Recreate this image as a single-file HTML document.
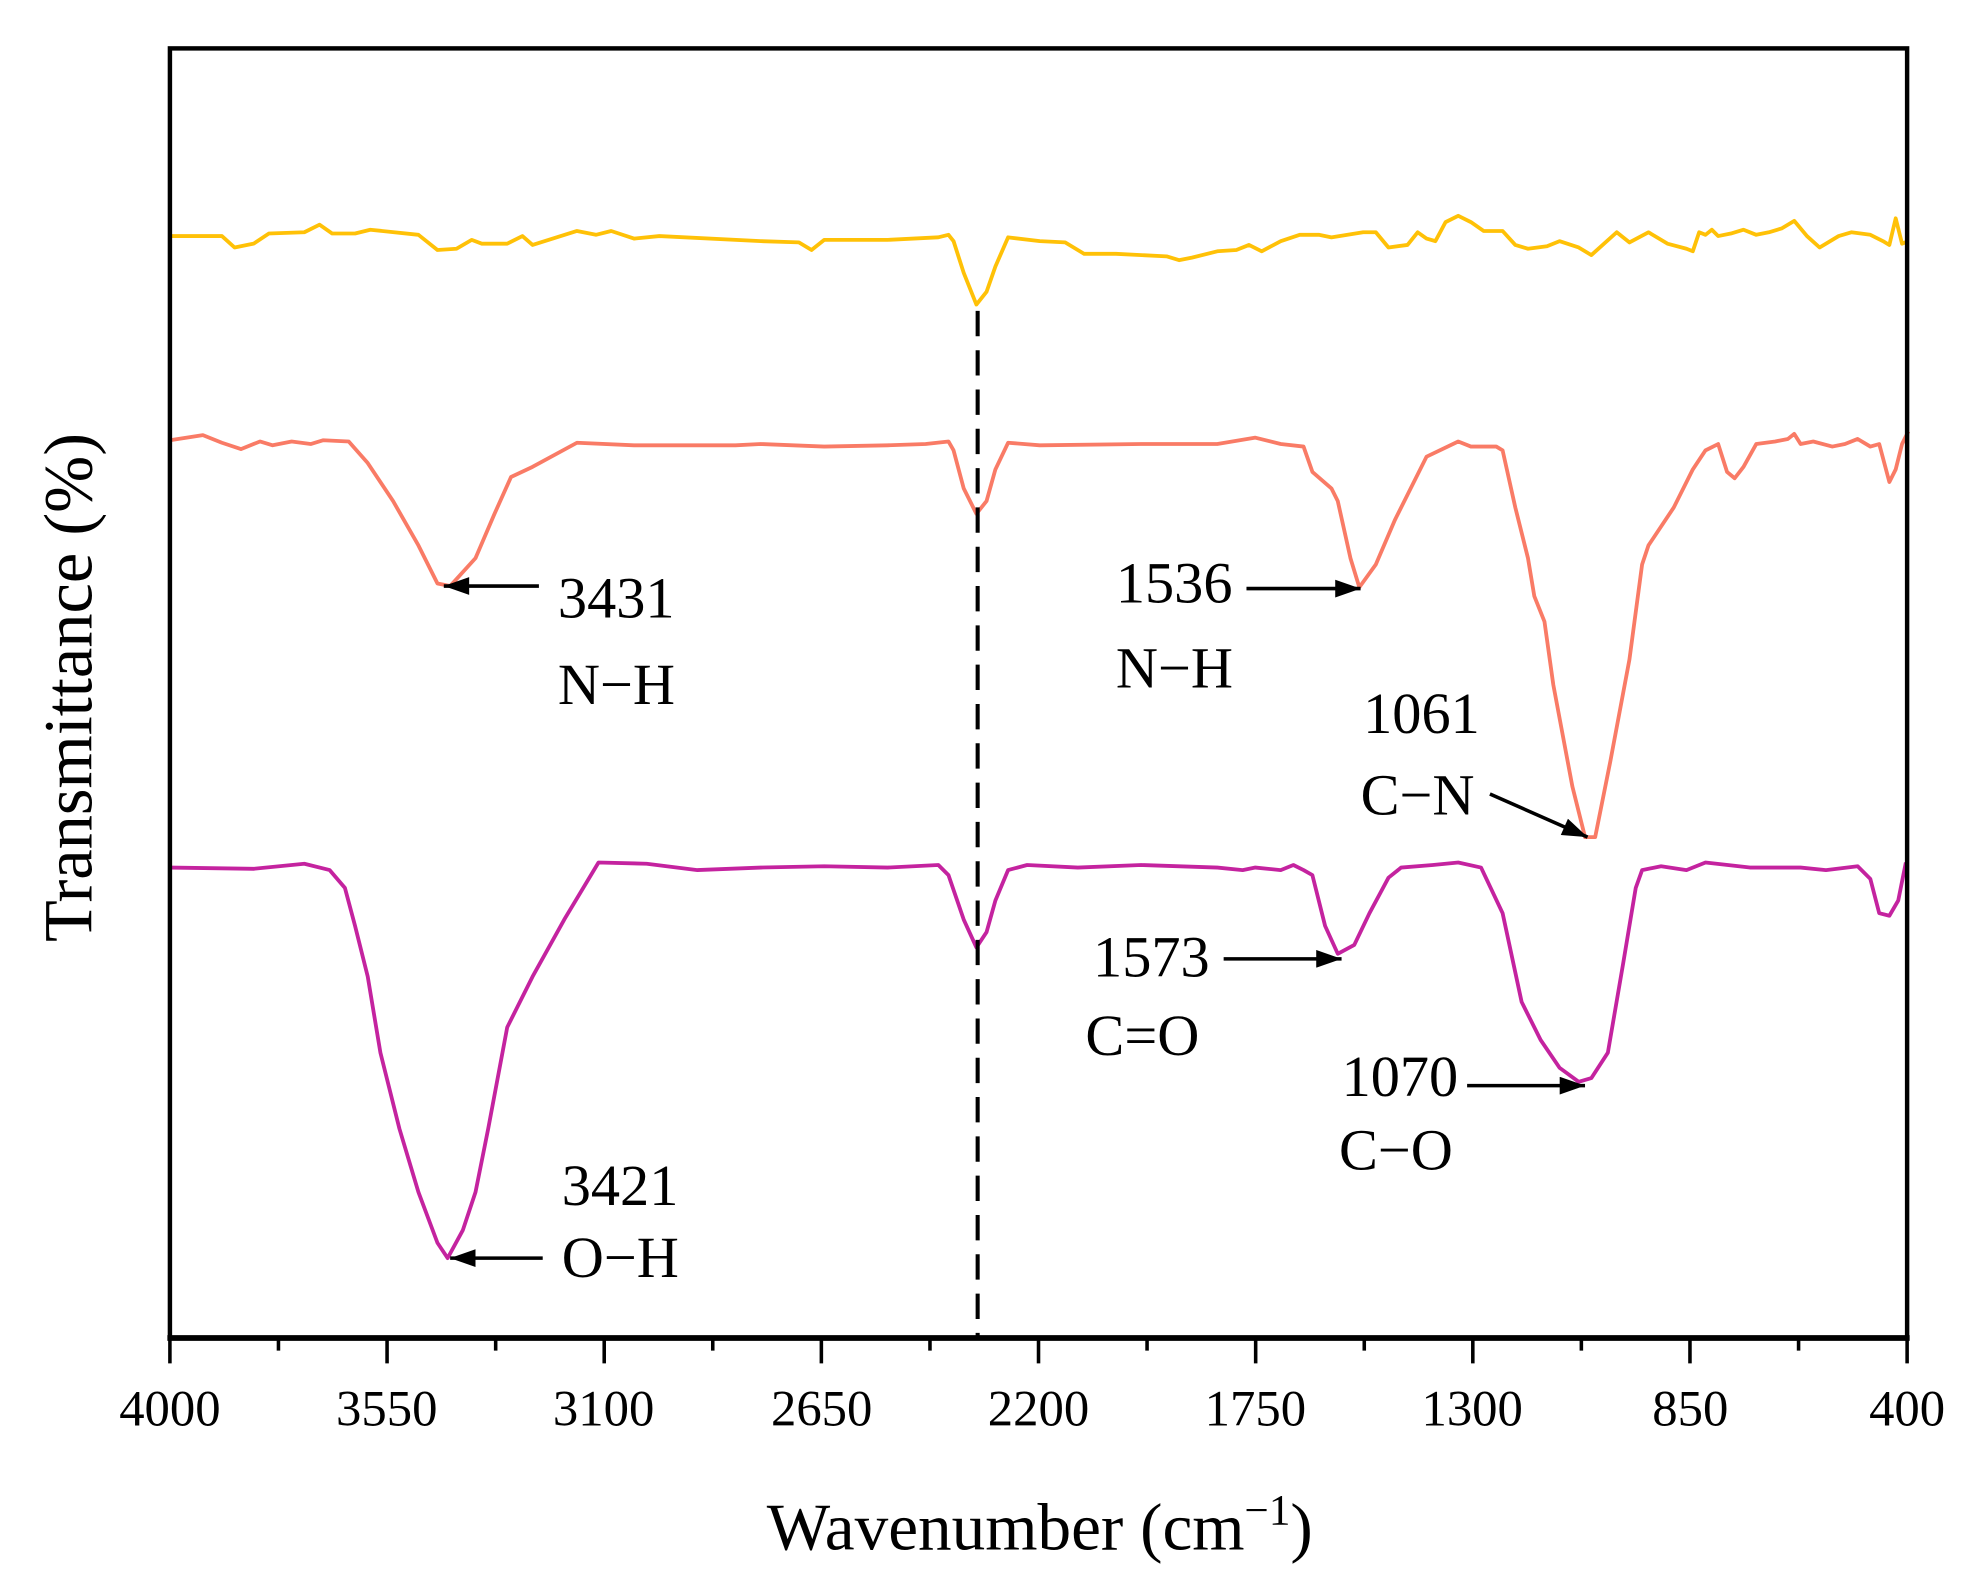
<!DOCTYPE html>
<html><head><meta charset="utf-8"><style>html,body{margin:0;padding:0;background:#fff}svg{display:block}</style></head>
<body>
<svg width="1987" height="1588" viewBox="0 0 1567 1252" xmlns="http://www.w3.org/2000/svg" font-family="'Liberation Serif', serif">
<defs>
<marker id="a2" viewBox="0 0 20 14" refX="20" refY="7" markerWidth="26" markerHeight="14" orient="auto" markerUnits="userSpaceOnUse"><path d="M0,0 L20,7 L0,14z" fill="#000"/></marker></defs>
<g fill="none" stroke-linejoin="round" stroke-width="3">
<polyline stroke="#FFC107" points="134,186 175,186 185,195 200,192 212,184 240,183 252,177 262,184 280,184 292,181 330,185 345,197 360,196 372,189 380,192 400,192 412,186 420,193 455,182 470,185 482,182 500,188 520,186 600,190 630,191 640,197 650,189 700,189 740,187 748,185 752,190 760,215 770,240 778,230 785,210 795,187 820,190 840,191 855,200 880,200 920,202 930,205 940,203 960,198 975,197 985,193 995,198 1010,190 1025,185 1030,185 1040,185 1050,187 1075,183 1085,183 1095,195 1110,193 1118,183 1125,188 1132,190 1140,175 1150,170 1160,175 1170,182 1185,182 1195,193 1205,196 1220,194 1230,190 1245,195 1255,201 1275,183 1285,191 1300,183 1315,192 1330,196 1335,198 1340,183 1345,185 1350,181 1355,186 1365,184 1375,181 1385,185 1395,183 1405,180 1415,174 1425,186 1435,195 1450,186 1460,183 1475,185 1485,190 1490,193 1495,172 1500,192 1505,190"/>
<polyline stroke="#F97B66" points="134,347 160,343 175,349 190,354 205,348 215,351 230,348 245,350 255,347 275,348 290,365 310,395 330,430 345,460 355,462 375,440 390,405 403,376 420,368 455,349 500,351 580,351 600,350 650,352 700,351 730,350 748,348 752,355 760,385 770,405 778,395 785,370 795,349 820,351 900,350 960,350 990,345 1010,350 1028,352 1035,372 1050,385 1055,395 1065,440 1072,463 1085,445 1100,410 1125,360 1150,348 1160,352 1180,352 1185,355 1195,400 1205,440 1210,470 1218,490 1225,540 1240,620 1250,660 1258,660 1270,600 1285,520 1295,445 1300,430 1320,400 1335,370 1345,355 1355,350 1362,372 1368,377 1375,368 1385,350 1400,348 1410,346 1415,342 1420,350 1430,348 1445,352 1455,350 1465,346 1475,352 1482,350 1490,380 1495,370 1500,350 1505,340"/>
<polyline stroke="#C4239F" points="134,684 200,685 240,681 260,686 272,700 280,730 290,770 300,830 315,890 330,940 345,980 353,992 365,970 375,940 385,890 400,810 420,770 445,725 472,680 510,681 550,686 600,684 650,683 700,684 740,682 748,690 760,725 770,747 778,735 785,710 795,686 810,682 850,684 900,682 960,684 980,686 990,684 1010,686 1020,682 1028,686 1035,690 1045,730 1055,752 1068,745 1080,720 1095,692 1105,684 1130,682 1150,680 1168,684 1185,720 1200,790 1215,820 1230,842 1245,853 1255,850 1268,830 1280,760 1290,700 1295,686 1310,683 1330,686 1345,680 1380,684 1420,684 1440,686 1465,683 1475,693 1482,720 1490,722 1497,710 1503,680"/>
</g>
<line x1="771" y1="245" x2="771" y2="1055" stroke="#000" stroke-width="3.2" stroke-dasharray="20,11"/>
<rect x="134" y="38" width="1370" height="1017" fill="none" stroke="#000" stroke-width="3.5"/>
<line x1="132" y1="1055" x2="1506" y2="1055" stroke="#000" stroke-width="4.5"/>
<g stroke="#000" stroke-width="2.8">
<path d="M134,1055v20 M305.25,1055v20 M476.5,1055v20 M647.75,1055v20 M819,1055v20 M990.25,1055v20 M1161.5,1055v20 M1332.75,1055v20 M1504,1055v20"/>
<path d="M219.6,1055v10 M390.9,1055v10 M562.1,1055v10 M733.4,1055v10 M904.6,1055v10 M1075.9,1055v10 M1247.1,1055v10 M1418.4,1055v10"/>
</g>
<g font-size="40" text-anchor="middle" fill="#000">
<text x="134" y="1124">4000</text><text x="305" y="1124">3550</text><text x="476" y="1124">3100</text><text x="648" y="1124">2650</text><text x="819" y="1124">2200</text><text x="990" y="1124">1750</text><text x="1161" y="1124">1300</text><text x="1333" y="1124">850</text><text x="1504" y="1124">400</text>
</g>
<text x="820" y="1222" font-size="53" text-anchor="middle">Wavenumber (cm<tspan font-size="34" dy="-20">−1</tspan><tspan dy="20">)</tspan></text>
<text transform="translate(72,542) rotate(-90)" font-size="54" text-anchor="middle">Transmittance (%)</text>
<g font-size="46" fill="#000">
<text x="440" y="487">3431</text><text x="440" y="555">N−H</text>
<text x="880" y="475">1536</text><text x="880" y="542">N−H</text>
<text x="1075" y="578">1061</text><text x="1073" y="642">C−N</text>
<text x="862" y="770">1573</text><text x="856" y="832">C=O</text>
<text x="1058" y="864">1070</text><text x="1056" y="922">C−O</text>
<text x="443" y="950">3421</text><text x="443" y="1007">O−H</text>
</g>
<g stroke="#000" stroke-width="2.8" marker-end="url(#a2)">
<line x1="425" y1="462" x2="350" y2="462"/>
<line x1="983" y1="464" x2="1073" y2="464"/>
<line x1="1175" y1="626" x2="1252" y2="660"/>
<line x1="965" y1="756" x2="1058" y2="756"/>
<line x1="1157" y1="856" x2="1250" y2="856"/>
<line x1="428" y1="992" x2="355" y2="992"/>
</g>
</svg>
</body></html>
